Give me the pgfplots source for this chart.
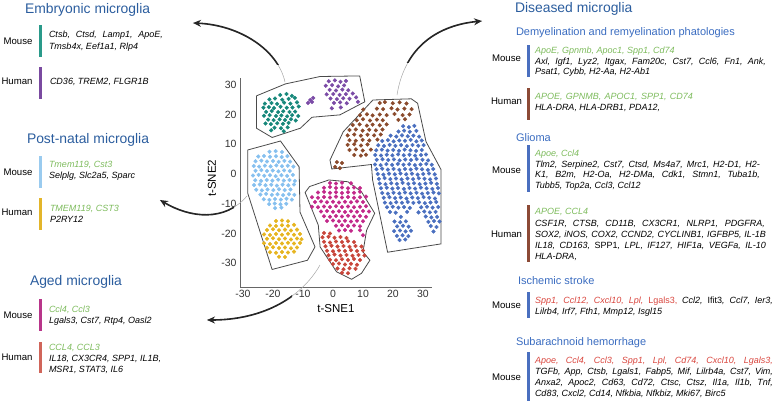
\documentclass[border=0pt]{standalone}
\usepackage{fontspec}
\setmainfont{Liberation Sans}
\usepackage{pgfplots}
\pgfplotsset{compat=1.18}
\usetikzlibrary{arrows.meta}

\definecolor{cTitle}{HTML}{2B5D9E}
\definecolor{cSub}{HTML}{3A6CC0}
\definecolor{cGreen}{HTML}{7DBB5C}
\definecolor{cRedTxt}{HTML}{D9463E}
\definecolor{cTeal}{HTML}{16877A}
\definecolor{cPurple}{HTML}{7B4BA6}
\definecolor{cBrown}{HTML}{8A4A2C}
\definecolor{cBlue}{HTML}{4A6FBF}
\definecolor{cLBlue}{HTML}{86C0EF}
\definecolor{cYellow}{HTML}{E6B41E}
\definecolor{cMagenta}{HTML}{C2298A}
\definecolor{cRed}{HTML}{C8453A}
\definecolor{cBarTeal}{HTML}{2A9A8A}
\definecolor{cBarPurple}{HTML}{7A4AA0}
\definecolor{cBarLBlue}{HTML}{9ACBEF}
\definecolor{cBarYellow}{HTML}{E3B52A}
\definecolor{cBarMag}{HTML}{B8358A}
\definecolor{cBarRed}{HTML}{D0655A}
\definecolor{cBarBrown}{HTML}{8C4A36}
\definecolor{cOutline}{HTML}{4A4A4A}

\newcommand{\gf}{\fontsize{9bp}{11bp}\selectfont\itshape}
\newcommand{\lf}{\fontsize{9.6bp}{11bp}\selectfont}
\newcommand{\tf}{\fontsize{13.9bp}{16bp}\selectfont}
\newcommand{\stf}{\fontsize{11bp}{13bp}\selectfont}
\newcommand{\gr}[1]{\textcolor{cGreen}{#1}}
\newcommand{\rd}[1]{\textcolor{cRedTxt}{#1}}

\begin{document}
\begin{tikzpicture}
\path[use as bounding box] (0,0) rectangle (776bp,-406bp);

\begin{axis}[
    at={(240bp,-287bp)}, anchor=south west,
    scale only axis, width=192bp, height=209bp,
    xmin=-31, xmax=33, ymin=-38, ymax=32.3,
    axis x line=bottom, axis y line=left,
    axis line style={-, draw=black!60, line width=0.9bp},
    xtick={-30,-20,...,30}, ytick={-30,-20,...,30},
    major tick length=0,
    /pgf/number format/assume math mode=true,
    tick label style={font=\fontsize{10.5bp}{12bp}\selectfont, text=black!80},
    xlabel={t-SNE1}, ylabel={t-SNE2},
    xlabel style={at={(axis description cs:0.5,-0.105)}, anchor=center, font=\fontsize{11.5bp}{13bp}\selectfont},
    ylabel style={at={(axis description cs:-0.146,0.52)}, anchor=center, font=\fontsize{11.5bp}{13bp}\selectfont},
    clip=false,
]
% cluster outlines
\addplot[draw=cOutline, line width=0.8bp] coordinates {
 (-25.5,26.3) (-15.9,30.3) (-4.3,32.8) (8.9,33.0) (10.6,24.3) (2.3,19.9)
 (-7.0,19.1) (-10.9,15.4) (-20.3,12.3) (-25.5,15.4) (-25.5,26.3)};
\addplot[draw=cOutline, line width=0.8bp] coordinates {
 (-28.4,8.1) (-17.5,11.1) (-11.3,2.4) (-11.0,-12.8) (-6.0,-24.5)
 (-8.5,-29.0) (-20.3,-32.1) (-28.4,-6.5) (-28.4,8.1)};
\addplot[draw=cOutline, line width=0.8bp] coordinates {
 (-1.4,-2.0) (5.0,-2.6) (9.5,-6.0) (13.9,-13.2) (11.2,-18.9) (10.0,-26.2)
 (12.3,-29.0) (9.5,-33.4) (6.2,-35.4) (1.2,-32.9) (-4.3,-24.5) (-4.9,-17.2)
 (-9.3,-6.2) (-7.8,-4.2) (-1.4,-2.0)};
\addplot[draw=cOutline, line width=0.8bp] coordinates {
 (-1.0,4.7) (3.4,14.2) (13.3,24.9) (26.1,25.3) (28.2,23.8) (31.0,10.9)
 (36.0,1.5) (36.0,-23.5) (18.2,-26.3) (13.2,-2.0) (12.8,3.2) (-0.4,1.7) (-1.0,4.7)};

% teal
\addplot[only marks, mark=*, mark size=1.85bp, cTeal] coordinates {
 (-17.6,26.6) (-15.5,26.9) (-13.7,26.3)
 (-21.2,25.1) (-19.3,25.4) (-16.9,25.0) (-14.8,25.3) (-12.7,25.6)
 (-22.7,23.7) (-20.5,23.9) (-18.6,23.6) (-16.3,24.0) (-14.2,23.7) (-12.0,24.1)
 (-23.2,22.3) (-21.4,22.5) (-19.7,22.2) (-17.5,22.6) (-15.4,22.3) (-13.5,22.4) (-11.4,22.7)
 (-22.3,20.9) (-20.4,21.2) (-18.3,20.8) (-16.6,21.1) (-14.5,20.9) (-12.6,21.0)
 (-23.0,19.6) (-21.1,19.8) (-19.0,19.5) (-17.2,19.7) (-15.3,19.4) (-13.6,19.8) (-11.6,19.5)
 (-21.6,18.3) (-19.8,18.1) (-17.8,18.4) (-16.0,18.2) (-14.0,18.4) (-12.4,18.0)
 (-22.5,17.0) (-20.7,16.8) (-18.6,17.1) (-16.7,16.9) (-14.8,17.2)
 (-19.5,15.6) (-17.3,15.4) (-15.1,15.7) (-20.6,14.7) (-16.4,14.4)};
% purple
\addplot[only marks, mark=*, mark size=1.85bp, cPurple] coordinates {
 (-1.4,31.2) (0.6,31.5) (2.5,31.0) (4.3,31.3)
 (-2.4,29.7) (-0.3,29.9) (1.7,29.5) (3.7,29.8)
 (-1.1,28.3) (1.0,28.1) (3.1,28.4) (5.1,28.2)
 (-2.1,26.8) (0.1,26.9) (2.2,26.6) (4.3,26.9) (6.6,27.1)
 (-0.8,25.4) (1.3,25.2) (3.4,25.5) (5.5,25.3) (7.7,25.8)
 (0.3,23.9) (2.4,24.1) (4.6,23.8) (8.3,24.3) (-0.4,22.1) (2.6,22.4)
 (-7.6,24.9) (-6.6,25.6) (-8.3,23.9) (-7.0,24.2)};
% brown
\addplot[only marks, mark=*, mark size=1.85bp, cBrown] coordinates {
 (15.6,23.9) (17.3,24.2) (19.9,23.8) (22.2,24.1) (24.5,23.7)
 (10.1,21.7) (14.6,22.0) (16.7,21.8) (19.5,22.1) (21.5,21.7) (23.8,22.0) (26.2,21.8)
 (9.0,19.8) (11.3,20.1) (13.2,19.7) (15.6,20.0) (17.9,19.8) (20.5,20.2) (23.2,19.8) (25.5,20.0)
 (7.9,18.1) (10.0,18.4) (12.3,18.0) (14.6,18.3) (16.6,18.1) (21.8,18.2) (24.0,18.4)
 (6.6,16.5) (8.9,16.7) (11.3,16.3) (13.2,16.6) (15.6,16.4) (17.9,16.7)
 (5.5,14.8) (7.6,15.0) (9.9,14.6) (12.1,14.9) (14.3,14.7) (16.5,15.0)
 (4.9,13.0) (7.1,13.3) (9.3,12.9) (11.5,13.2) (13.7,13.0) (15.9,13.3)
 (5.5,11.4) (7.6,11.2) (9.9,11.5) (12.1,11.3) (14.8,11.6)
 (4.9,9.8) (7.1,10.0) (9.3,9.6) (11.5,9.9)
 (5.5,8.1) (7.6,8.3) (9.9,7.9) (12.6,8.2)
 (7.1,6.4) (9.3,6.2) (11.0,6.5)
 (1.3,4.0) (3.0,3.7) (0.7,2.4) (2.3,2.0)};
% blue
\addplot[only marks, mark=*, mark size=1.85bp, cBlue] coordinates {
 (23.4,16.1) (25.3,15.8) (27.1,16.2)
 (21.8,14.3) (23.7,14.6) (25.6,14.2) (27.8,14.5)
 (19.2,12.9) (21.1,12.6) (23.0,13.0) (24.9,12.7) (26.8,12.9) (28.7,12.6)
 (16.4,11.1) (18.3,11.4) (20.2,11.0) (22.1,11.3) (24.0,11.2) (25.9,11.5) (27.8,11.0) (29.6,11.3)
 (15.1,9.7) (17.0,9.4) (18.9,9.8) (20.8,9.5) (22.7,9.7) (24.6,9.4) (26.5,9.8) (28.4,9.5) (30.2,9.7)
 (14.4,8.0) (16.3,8.2) (18.2,7.9) (20.1,8.1) (22.0,7.8) (23.9,8.2) (25.8,8.0) (27.7,7.8) (29.6,8.1)
 (14.1,6.4) (16.0,6.2) (17.9,6.5) (19.8,6.3) (21.7,6.6) (23.6,6.3) (25.5,6.5) (27.4,6.2) (29.3,6.4) (31.0,6.6)
 (14.6,4.8) (16.5,5.0) (18.4,4.7) (20.3,4.9) (22.2,4.6) (24.1,4.9) (26.0,4.7) (27.9,5.0) (29.8,4.8) (31.7,4.6)
 (14.0,3.2) (15.9,3.0) (17.8,3.3) (19.7,3.1) (21.6,3.4) (23.5,3.1) (25.4,3.3) (27.3,3.0) (29.2,3.2) (31.1,3.4) (32.9,3.1)
 (14.5,1.6) (16.4,1.8) (18.3,1.5) (20.2,1.7) (22.1,1.4) (24.0,1.7) (25.9,1.5) (27.8,1.8) (29.7,1.6) (31.6,1.4) (33.4,1.7)
 (14.9,0.0) (16.8,-0.2) (18.7,0.1) (20.6,-0.1) (22.5,0.2) (24.4,-0.1) (26.3,0.1) (28.2,-0.2) (30.1,0.0) (32.0,0.2) (33.9,-0.1)
 (15.3,-1.6) (17.2,-1.4) (19.1,-1.7) (21.0,-1.5) (22.9,-1.8) (24.8,-1.5) (26.7,-1.7) (28.6,-1.4) (30.5,-1.6) (32.4,-1.8) (34.3,-1.5)
 (15.6,-3.2) (17.5,-3.4) (19.4,-3.1) (21.3,-3.3) (23.2,-3.0) (25.1,-3.3) (27.0,-3.1) (28.9,-3.4) (30.8,-3.2) (32.7,-3.0) (34.6,-3.3)
 (16.0,-4.8) (17.9,-4.6) (19.8,-4.9) (21.7,-4.7) (23.6,-5.0) (25.5,-4.7) (27.4,-4.9) (29.3,-4.6) (31.2,-4.8) (33.1,-5.0) (35.0,-4.7)
 (16.4,-6.4) (18.3,-6.6) (20.2,-6.3) (22.1,-6.5) (24.0,-6.2) (25.9,-6.5) (27.8,-6.3) (29.7,-6.6) (31.6,-6.4) (33.5,-6.2) (35.3,-6.5)
 (16.9,-8.0) (18.8,-7.8) (20.7,-8.1) (22.6,-7.9) (24.5,-8.2) (26.4,-7.9) (28.3,-8.1) (30.2,-7.8) (32.1,-8.0) (34.0,-8.2)
 (17.3,-9.6) (19.2,-9.8) (21.1,-9.5) (23.0,-9.7) (24.9,-9.4) (26.8,-9.7) (28.7,-9.5) (30.6,-9.8) (32.5,-9.6) (34.4,-9.4)
 (18.0,-11.2) (19.9,-11.0) (21.8,-11.3) (23.7,-11.1) (25.6,-11.4) (29.4,-11.2) (31.3,-11.0) (33.2,-11.3) (35.1,-11.1)
 (19.0,-12.8) (20.9,-13.0) (24.7,-12.7) (28.5,-12.9) (30.4,-12.6) (32.3,-12.9) (34.2,-12.7)
 (22.6,-14.4) (30.9,-14.3) (32.8,-14.6) (34.7,-14.4)
 (20.5,-16.0) (22.4,-16.2) (24.3,-15.9) (31.8,-16.1) (33.7,-15.8) (35.5,-16.0)
 (21.4,-17.6) (23.3,-17.4) (25.2,-17.7) (32.6,-17.5) (34.5,-17.8)
 (20.4,-19.2) (22.3,-19.0) (24.2,-19.3) (26.0,-19.1) (33.5,-19.3)
 (21.3,-20.8) (23.2,-20.6) (25.1,-20.9) (22.2,-22.2) (24.1,-22.0)};
% light blue
\addplot[only marks, mark=*, mark size=1.85bp, cLBlue] coordinates {
 (-21.2,7.5) (-19.1,7.7) (-17.0,7.4)
 (-24.9,5.9) (-23.0,6.1) (-21.0,5.8) (-19.0,6.0) (-17.1,5.7) (-15.2,6.0)
 (-25.8,4.3) (-23.9,4.5) (-22.0,4.2) (-20.0,4.4) (-18.1,4.1) (-16.2,4.4) (-14.3,4.2)
 (-26.4,2.7) (-24.6,2.5) (-22.7,2.8) (-20.8,2.6) (-18.9,2.9) (-17.0,2.6) (-15.1,2.8) (-13.2,2.5)
 (-25.8,1.1) (-23.9,1.3) (-22.0,1.0) (-20.1,1.2) (-18.2,0.9) (-16.3,1.2) (-14.4,1.0)
 (-26.7,-0.5) (-24.8,-0.3) (-22.9,-0.6) (-21.0,-0.4) (-19.1,-0.7) (-17.2,-0.4) (-15.3,-0.6) (-13.4,-0.3)
 (-25.9,-2.1) (-24.0,-2.3) (-22.1,-2.0) (-20.2,-2.2) (-18.3,-1.9) (-16.4,-2.2) (-14.5,-2.0) (-12.7,-2.3)
 (-26.3,-3.7) (-24.4,-3.5) (-22.5,-3.8) (-20.6,-3.6) (-18.7,-3.9) (-16.8,-3.6) (-14.9,-3.8) (-13.0,-3.5)
 (-25.6,-5.3) (-23.7,-5.5) (-21.8,-5.2) (-19.9,-5.4) (-18.0,-5.1) (-16.1,-5.4) (-14.2,-5.2)
 (-24.2,-6.9) (-22.3,-6.7) (-20.4,-7.0) (-18.5,-6.8) (-16.6,-7.1) (-14.7,-6.8) (-12.9,-7.0)
 (-23.1,-8.5) (-21.2,-8.7) (-19.3,-8.4) (-17.4,-8.6) (-15.5,-8.3) (-13.7,-8.6)
 (-21.3,-10.1) (-19.4,-9.9) (-17.5,-10.2) (-15.6,-10.0) (-19.3,-11.5) (-17.2,-11.3)};
% yellow
\addplot[only marks, mark=*, mark size=1.85bp, cYellow] coordinates {
 (-19.0,-15.8) (-17.0,-15.6) (-15.0,-15.9)
 (-21.0,-17.3) (-19.0,-17.5) (-17.0,-17.2) (-15.0,-17.4) (-13.0,-17.1)
 (-22.0,-18.8) (-20.0,-18.6) (-18.0,-18.9) (-16.0,-18.7) (-14.0,-19.0) (-12.0,-18.7)
 (-23.0,-20.3) (-21.0,-20.5) (-19.0,-20.2) (-17.0,-20.4) (-15.0,-20.1) (-13.0,-20.4) (-11.0,-20.2)
 (-22.0,-21.8) (-20.0,-21.6) (-18.0,-21.9) (-16.0,-21.7) (-14.0,-22.0) (-12.0,-21.7) (-10.5,-21.9)
 (-23.0,-23.3) (-21.0,-23.5) (-19.0,-23.2) (-17.0,-23.4) (-15.0,-23.1) (-13.0,-23.4) (-11.0,-23.2)
 (-22.0,-24.8) (-20.0,-24.6) (-18.0,-24.9) (-16.0,-24.7) (-14.0,-25.0) (-12.0,-24.7)
 (-21.0,-26.3) (-19.0,-26.5) (-17.0,-26.2) (-15.0,-26.4) (-13.0,-26.1)
 (-18.0,-27.8) (-16.0,-27.9)};
% magenta
\addplot[only marks, mark=*, mark size=1.85bp, cMagenta] coordinates {
 (-1.0,-3.0) (1.0,-3.2) (3.0,-2.9) (6.0,-3.1)
 (-3.0,-4.6) (-1.0,-4.4) (1.0,-4.7) (3.0,-4.5) (5.0,-4.8) (7.0,-4.5) (9.0,-4.7)
 (-5.0,-6.2) (-3.0,-6.0) (-1.0,-6.3) (1.0,-6.1) (3.0,-6.4) (5.0,-6.1) (7.0,-6.3) (9.0,-6.0)
 (-7.0,-7.8) (-5.0,-8.0) (-3.0,-7.7) (-1.0,-7.9) (1.0,-7.6) (3.0,-7.9) (5.0,-7.7) (7.0,-8.0) (9.0,-7.8) (11.0,-7.6)
 (-6.0,-9.4) (-4.0,-9.2) (-2.0,-9.5) (0.0,-9.3) (2.0,-9.6) (4.0,-9.3) (6.0,-9.5) (8.0,-9.2) (10.0,-9.4)
 (-7.0,-11.0) (-5.0,-11.2) (-3.0,-10.9) (-1.0,-11.1) (1.0,-10.8) (3.0,-11.1) (5.0,-10.9) (7.0,-11.2) (9.0,-11.0) (11.0,-10.8)
 (-4.0,-12.6) (-2.0,-12.4) (0.0,-12.7) (2.0,-12.5) (4.0,-12.8) (6.0,-12.5) (8.0,-12.7) (10.0,-12.4) (12.0,-12.6)
 (-3.0,-14.2) (-1.0,-14.4) (1.0,-14.1) (3.0,-14.3) (5.0,-14.0) (7.0,-14.3) (9.0,-14.1) (11.0,-14.4)
 (-2.0,-15.8) (0.0,-15.6) (2.0,-15.9) (4.0,-15.7) (6.0,-16.0) (8.0,-15.7) (10.0,-15.9)
 (1.0,-17.4) (3.0,-17.2) (5.0,-17.5) (7.0,-17.3) (9.0,-17.6)
 (2.0,-19.0) (4.0,-18.8) (6.0,-19.1) (9.0,-18.9) (10.0,-20.6)};
% red
\addplot[only marks, mark=*, mark size=1.85bp, cRed] coordinates {
 (-3.0,-19.8) (-1.0,-20.0)
 (-3.5,-21.3) (-1.5,-21.1) (0.5,-21.4) (2.5,-21.2) (4.5,-21.5)
 (-3.0,-22.8) (-1.0,-23.0) (1.0,-22.7) (3.0,-22.9) (5.0,-22.6) (7.0,-22.9)
 (-2.5,-24.3) (-0.5,-24.1) (1.5,-24.4) (3.5,-24.2) (5.5,-24.5) (7.5,-24.2) (9.5,-24.4)
 (-2.0,-25.8) (0.0,-26.0) (2.0,-25.7) (4.0,-25.9) (6.0,-25.6) (8.0,-25.9) (10.0,-25.7)
 (-1.5,-27.3) (0.5,-27.1) (2.5,-27.4) (4.5,-27.2) (6.5,-27.5) (8.5,-27.2) (10.5,-27.4)
 (-1.0,-28.8) (1.0,-29.0) (3.0,-28.7) (5.0,-28.9) (7.0,-28.6) (9.0,-28.9)
 (0.0,-30.3) (2.0,-30.1) (4.0,-30.4) (6.0,-30.2) (8.0,-30.5)
 (1.5,-31.8) (3.5,-32.0) (5.5,-31.7) (7.5,-31.9) (3.0,-33.2) (5.0,-33.4)};
\end{axis}

\begin{scope}[x=1bp, y=-1bp]
% arrows
\draw[black!35, line width=0.5bp] (285,82) .. controls (278,50) and (240,25) .. (193,23);
\begin{scope}\clip (150,0) rectangle (300,64);
\draw[black!85, line width=1.6bp, -{Stealth[length=8bp,width=7bp]}] (285,82) .. controls (278,50) and (240,25) .. (193,23);
\end{scope}
\draw[black!35, line width=0.5bp] (397,95) .. controls (405,45) and (440,25) .. (482,21);
\begin{scope}\clip (380,0) rectangle (520,62);
\draw[black!85, line width=1.6bp, -{Stealth[length=8bp,width=7bp]}] (397,95) .. controls (405,45) and (440,25) .. (482,21);
\end{scope}
\draw[black!35, line width=0.5bp] (247,196) .. controls (225,222) and (190,218) .. (160,200);
\begin{scope}\clip (140,180) rectangle (234,240);
\draw[black!85, line width=1.6bp, -{Stealth[length=8bp,width=7bp]}] (247,196) .. controls (225,222) and (190,218) .. (160,200);
\end{scope}
\draw[black!35, line width=0.5bp] (320,265) .. controls (300,300) and (260,320) .. (207,320);
\begin{scope}\clip (190,285) rectangle (292,340);
\draw[black!85, line width=1.6bp, -{Stealth[length=8bp,width=7bp]}] (320,265) .. controls (300,300) and (260,320) .. (207,320);
\end{scope}

\tikzset{every node/.style={inner sep=0pt, outer sep=0pt}}
% left panel
\node[anchor=base west, text=cTitle, font=\tf] at (25,13) {Embryonic microglia};
\node[anchor=base, font=\lf] at (18,44.5) {Mouse};
\fill[cBarTeal] (39,25) rectangle (42,57);
\node[anchor=base west, font=\gf] at (49,37.2) {\makebox[114bp][s]{Ctsb, Ctsd, Lamp1, ApoE,}};
\node[anchor=base west, font=\gf] at (49,49.2) {Tmsb4x, Eef1a1, Rlp4};
\node[anchor=base, font=\lf] at (17,84.5) {Human};
\fill[cBarPurple] (39,67) rectangle (42,99);
\node[anchor=base west, font=\gf] at (50,84.2) {CD36, TREM2, FLGR1B};

\node[anchor=base west, text=cTitle, font=\tf] at (27,143.5) {Post-natal microglia};
\node[anchor=base, font=\lf] at (18,175) {Mouse};
\fill[cBarLBlue] (39,156) rectangle (42,188);
\node[anchor=base west, font=\gf] at (49,167.5) {\gr{Tmem119, Cst3}};
\node[anchor=base west, font=\gf] at (49,178.9) {Selplg, Slc2a5, Sparc};
\node[anchor=base, font=\lf] at (17,215) {Human};
\fill[cBarYellow] (39,198) rectangle (42,230);
\node[anchor=base west, font=\gf] at (50,211.5) {\gr{TMEM119, CST3}};
\node[anchor=base west, font=\gf] at (50,222.5) {P2RY12};

\node[anchor=base west, text=cTitle, font=\tf] at (30,285) {Aged microglia};
\node[anchor=base, font=\lf] at (18,318.5) {Mouse};
\fill[cBarMag] (39,299) rectangle (42,331);
\node[anchor=base west, font=\gf] at (49,312.5) {\gr{Ccl4, Ccl3}};
\node[anchor=base west, font=\gf] at (49,323.9) {Lgals3, Cst7, Rtp4, Oasl2};
\node[anchor=base, font=\lf] at (17,360) {Human};
\fill[cBarRed] (39,342) rectangle (42,373);
\node[anchor=base west, font=\gf] at (49,350.5) {\gr{CCL4, CCL3}};
\node[anchor=base west, font=\gf] at (49,361.9) {IL18, CX3CR4, SPP1, IL1B,};
\node[anchor=base west, font=\gf] at (49,372.5) {MSR1, STAT3, IL6};

% right panel
\node[anchor=base west, text=cTitle, font=\tf] at (515,12.5) {Diseased microglia};
\node[anchor=base west, text=cSub, font=\stf] at (516,35.5) {Demyelination and remyelination phatologies};
\node[anchor=base, font=\lf] at (506.5,61.8) {Mouse};
\fill[cBlue] (527,45) rectangle (530,77);
\node[anchor=base west, font=\gf] at (535,53.9) {\gr{ApoE, Gpnmb, Apoc1, Spp1, Cd74}};
\node[anchor=base west, font=\gf] at (535,64.9) {\makebox[231bp][s]{Axl, Igf1, Lyz2, Itgax, Fam20c, Cst7, Ccl6, Fn1, Ank,}};
\node[anchor=base west, font=\gf] at (535,74.9) {Psat1, Cybb, H2-Aa, H2-Ab1};
\node[anchor=base, font=\lf] at (506.5,104.5) {Human};
\fill[cBarBrown] (527,88) rectangle (530,120);
\node[anchor=base west, font=\gf] at (535,99.2) {\gr{\makebox[158bp][s]{APOE, GPNMB, APOC1, SPP1, CD74}}};
\node[anchor=base west, font=\gf] at (535,110.5) {HLA-DRA, HLA-DRB1, PDA12,};

\node[anchor=base west, text=cSub, font=\stf] at (516,141) {Glioma};
\node[anchor=base, font=\lf] at (506.5,173.5) {Mouse};
\fill[cBlue] (527,145) rectangle (530,192);
\node[anchor=base west, font=\gf] at (535,156.5) {\gr{Apoe, Ccl4}};
\node[anchor=base west, font=\gf] at (535,167.5) {\makebox[225bp][s]{Tlm2, Serpine2, Cst7, Ctsd, Ms4a7, Mrc1, H2-D1, H2-}};
\node[anchor=base west, font=\gf] at (535,177.5) {\makebox[225bp][s]{K1, B2m, H2-Oa, H2-DMa, Cdk1, Stmn1, Tuba1b,}};
\node[anchor=base west, font=\gf] at (535,188.2) {Tubb5, Top2a, Ccl3, Ccl12};
\node[anchor=base, font=\lf] at (506.5,237.5) {Human};
\fill[cBarBrown] (527,205) rectangle (530,262);
\node[anchor=base west, font=\gf] at (535,214.9) {\gr{APOE, CCL4}};
\node[anchor=base west, font=\gf] at (535,226.5) {\makebox[230bp][s]{CSF1R, CTSB, CD11B, CX3CR1, NLRP1, PDGFRA,}};
\node[anchor=base west, font=\gf] at (535,237.5) {\makebox[231bp][s]{SOX2, iNOS, COX2, CCND2, CYCLINB1, IGFBP5, IL-1B}};
\node[anchor=base west, font=\gf] at (535,248.5) {\makebox[231bp][s]{IL18, CD163, \upshape SPP1\itshape, LPL, IF127, HIF1a, VEGFa, IL-10}};
\node[anchor=base west, font=\gf] at (535,259.2) {HLA-DRA,};

\node[anchor=base west, text=cSub, font=\stf] at (518,284) {Ischemic stroke};
\node[anchor=base, font=\lf] at (506.5,308.5) {Mouse};
\fill[cBlue] (527,292) rectangle (530,318);
\node[anchor=base west, font=\gf] at (535,303.2) {\makebox[238bp][s]{\rd{Spp1, Ccl12, Cxcl10, Lpl, \upshape Lgals3,\itshape} Ccl2, \upshape Ifit3\itshape, Ccl7, Ier3,}};
\node[anchor=base west, font=\gf] at (535,314.2) {Lilrb4, Irf7, Fth1, Mmp12, Isgl15};

\node[anchor=base west, text=cSub, font=\stf] at (516,345) {Subarachnoid hemorrhage};
\node[anchor=base, font=\lf] at (506.5,380.5) {Mouse};
\fill[cBlue] (527,352) rectangle (530,401);
\node[anchor=base west, font=\gf] at (535,363.9) {\color{cRedTxt}\makebox[238bp][s]{Apoe, Ccl4, Ccl3, Spp1, Lpl, Cd74, Cxcl10, Lgals3,}};
\node[anchor=base west, font=\gf] at (535,374.9) {\makebox[238bp][s]{TGFb, App, Ctsb, Lgals1, Fabp5, Mif, Lilrb4a, Cst7, Vim,}};
\node[anchor=base west, font=\gf] at (535,385.9) {\makebox[238bp][s]{Anxa2, Apoc2, Cd63, Cd72, Ctsc, Ctsz, Il1a, Il1b, Tnf,}};
\node[anchor=base west, font=\gf] at (535,396.9) {Cd83, Cxcl2, Cd14, Nfkbia, Nfkbiz, Mki67, Birc5};
\end{scope}
\end{tikzpicture}
\end{document}
